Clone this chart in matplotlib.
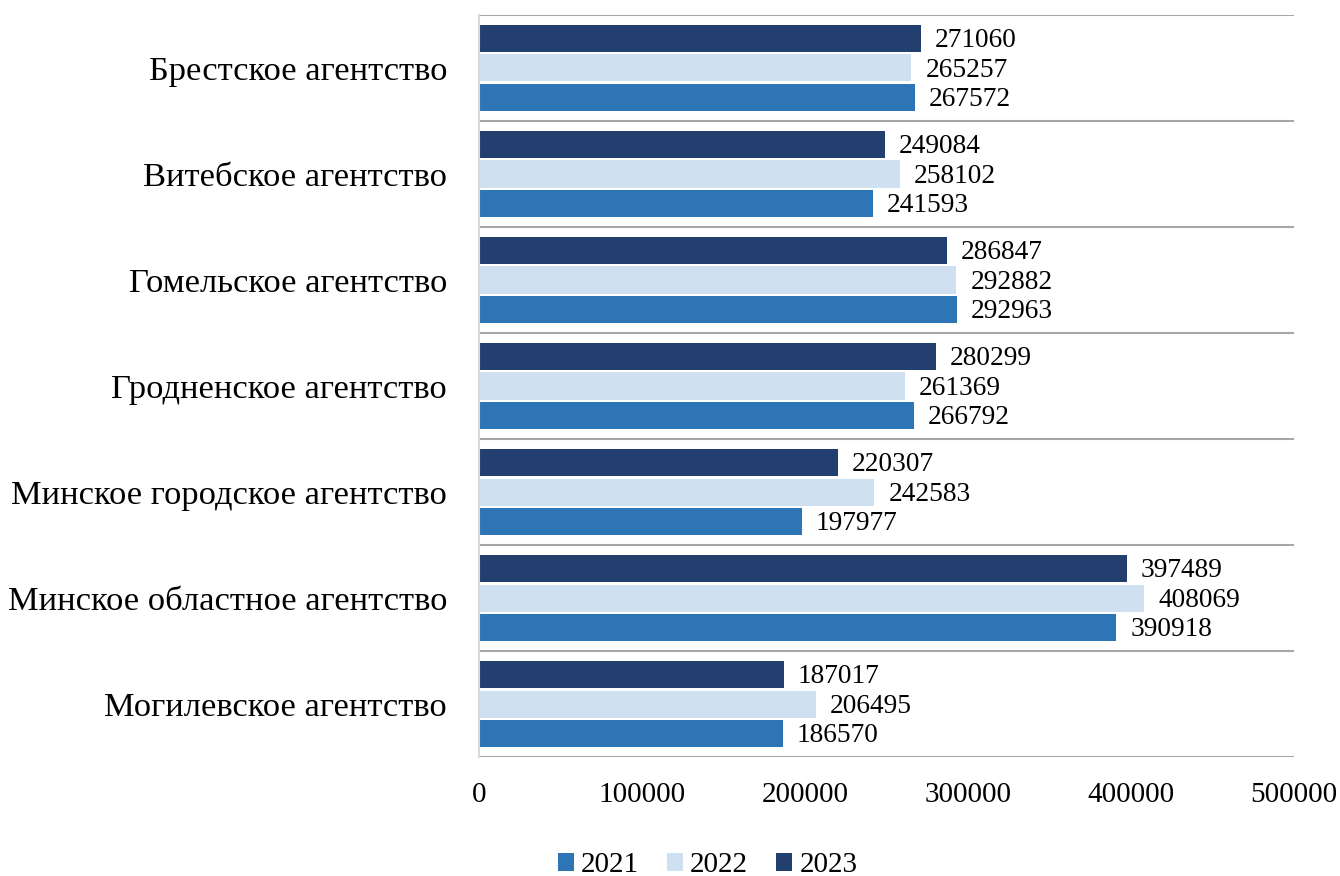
import matplotlib.pyplot as plt
import numpy as np

plt.rcParams['font.family'] = ['Liberation Serif', 'DejaVu Serif']

agencies = ['Брестское агентство', 'Витебское агентство', 'Гомельское агентство',
            'Гродненское агентство', 'Минское городское агентство',
            'Минское областное агентство', 'Могилевское агентство']
years = ['2021', '2022', '2023']
v2021 = [267572, 241593, 292963, 266792, 197977, 390918, 186570]
v2022 = [265257, 258102, 292882, 261369, 242583, 408069, 206495]
v2023 = [271060, 249084, 286847, 280299, 220307, 397489, 187017]
colors = ['#2e75b6', '#cfe0f1', '#223f70']

fig = plt.figure(figsize=(13.4, 8.76), dpi=100)
ax = fig.add_axes([0.3575, 0.1358, 0.6082, 0.8471])

# первая категория сверху
y = np.arange(len(agencies))[::-1]
h = 0.255
offs = [-0.278, 0.0, 0.278]
for vals, off, c, lab in zip([v2021, v2022, v2023], offs, colors, years):
    bars = ax.barh(y + off, vals, height=h, color=c, label=lab)
    for b, v in zip(bars, vals):
        ax.text(v + 8500, b.get_y() + b.get_height() / 2 - 0.02, str(v),
                va='center', ha='left', fontsize=19.7)

ax.set_xlim(0, 500000)
ax.set_ylim(-0.5, len(agencies) - 0.5)
ax.set_xticks(np.arange(0, 500001, 100000))
ax.set_xticklabels([str(t) for t in range(0, 500001, 100000)], fontsize=21)
ax.set_yticks(y)
ax.set_yticklabels(agencies, fontsize=24.8)
ax.tick_params(axis='both', length=0)
ax.tick_params(axis='x', pad=18)
ax.tick_params(axis='y', pad=23)

# разделители между агентствами
ax.set_yticks(np.arange(-0.5, len(agencies)), minor=True)
ax.tick_params(axis='y', which='minor', length=0)
ax.grid(axis='y', which='minor', color='#a6a6a6', linewidth=1.5)
ax.set_axisbelow(True)
for s in ['top', 'right', 'bottom']:
    ax.spines[s].set_visible(False)
ax.spines['left'].set_color('#d9d9d9')
ax.spines['left'].set_linewidth(1.5)

handles, labels = ax.get_legend_handles_labels()
fig.legend(handles, labels, loc='center', bbox_to_anchor=(0.528, 0.012),
           ncol=3, frameon=False, fontsize=21, handlelength=0.55,
           handleheight=0.55, handletextpad=0.25, columnspacing=0.95)

fig.savefig('out.png', dpi=100)
